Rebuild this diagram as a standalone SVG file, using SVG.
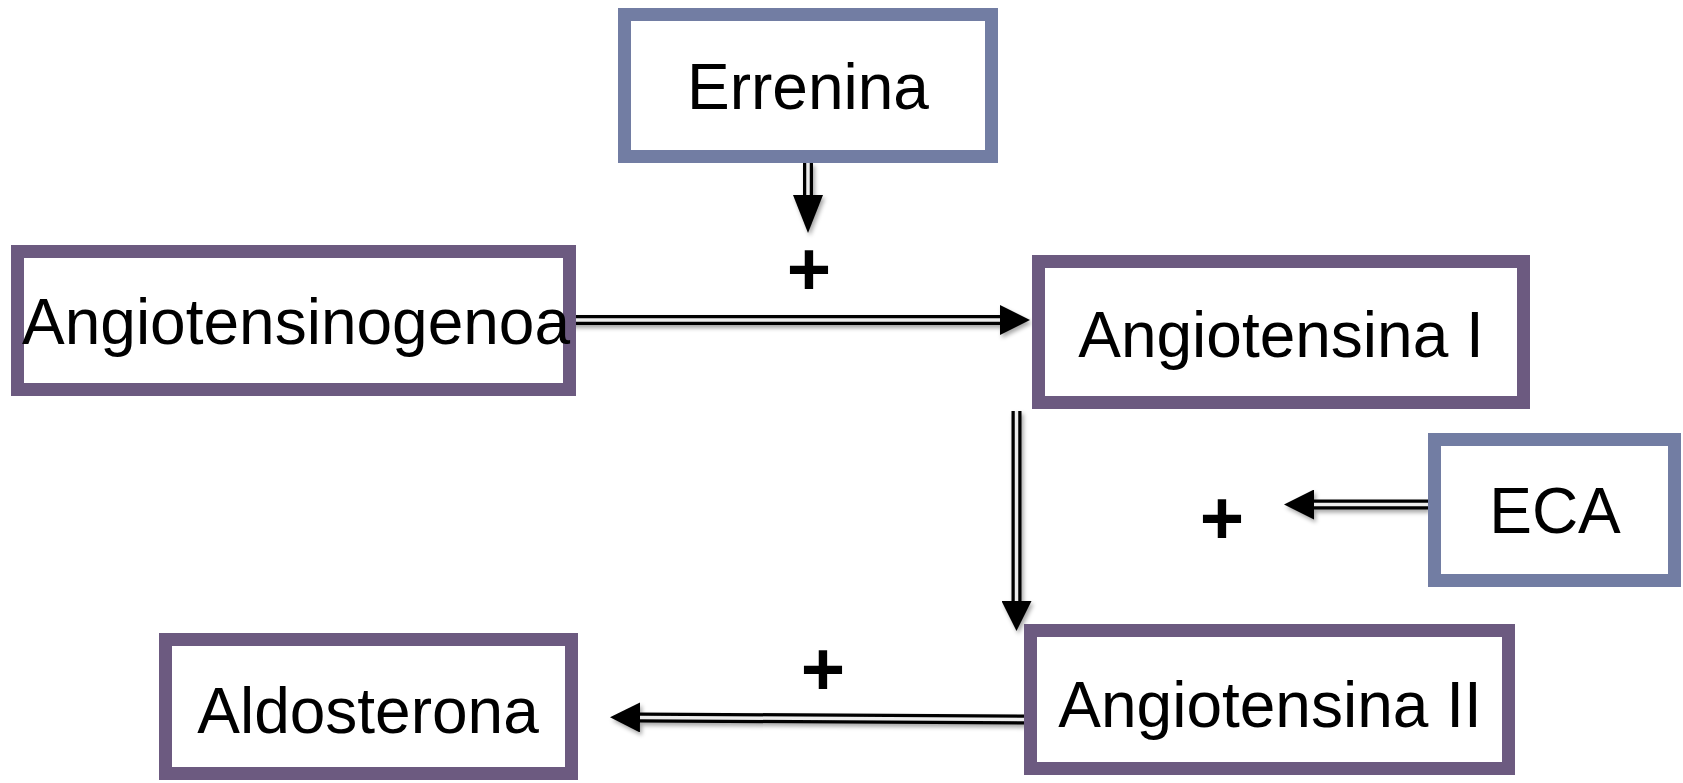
<svg xmlns="http://www.w3.org/2000/svg" width="1683" height="783" viewBox="0 0 1683 783">
  <style>
    .box { fill: #ffffff; stroke-width: 13; }
    .blue { stroke: #727DA3; }
    .purple { stroke: #6C5A80; }
    .label { font-family: "Liberation Sans", Arial, sans-serif; font-size: 64px; fill: #000000; }
    .plus { font-family: "Liberation Sans", Arial, sans-serif; font-size: 76px; font-weight: bold; fill: #000000; text-anchor: middle; }
    .wire { fill: none; stroke: #000000; stroke-width: 10; }
    .gap { fill: none; stroke: #ececec; stroke-width: 3.5; }
  </style>
  <defs>
    <marker id="head" markerUnits="userSpaceOnUse" markerWidth="30" markerHeight="30" viewBox="0 0 30 30" refX="0" refY="15" orient="auto">
      <path d="M0,0 L30,15 L0,30 Z" fill="#000000"/>
    </marker>
    <marker id="headLong" markerUnits="userSpaceOnUse" markerWidth="38" markerHeight="30" viewBox="0 0 38 30" refX="0" refY="15" orient="auto">
      <path d="M0,0 L38,15 L0,30 Z" fill="#000000"/>
    </marker>
    <filter id="shadow" x="-20%" y="-20%" width="140%" height="160%">
      <feDropShadow dx="2" dy="3" stdDeviation="2" flood-color="#000000" flood-opacity="0.35"/>
    </filter>
  </defs>

  <rect width="1683" height="783" fill="#ffffff"/>

  <!-- connectors: each one is a thick black stroke with a light core, giving a double line -->
  <g id="connectors" filter="url(#shadow)">
    <g id="c-errenina">
      <path class="wire" d="M808,163 L808,195" marker-end="url(#headLong)"/>
      <path class="gap" d="M808,163 L808,195"/>
    </g>
    <g id="c-angiotensinogenoa">
      <path class="wire" d="M566,320 L1000,320" marker-end="url(#head)"/>
      <path class="gap" d="M566,320 L1000,320"/>
    </g>
    <g id="c-angiotensina1">
      <path class="wire" d="M1016.5,411 L1016.5,601" marker-end="url(#head)"/>
      <path class="gap" d="M1016.5,411 L1016.5,601"/>
    </g>
    <g id="c-eca">
      <path class="wire" d="M1428,504.5 L1314,504.5" marker-end="url(#head)"/>
      <path class="gap" d="M1428,504.5 L1314,504.5"/>
    </g>
    <g id="c-angiotensina2">
      <path class="wire" d="M1027,719.5 L640,717.5" marker-end="url(#head)"/>
      <path class="gap" d="M1027,719.5 L640,717.5"/>
    </g>
  </g>

  <g id="node-errenina">
    <rect class="box blue" x="624.5" y="14.5" width="367" height="142"/>
    <text class="label" x="808" y="109" text-anchor="middle">Errenina</text>
  </g>

  <g id="node-angiotensinogenoa">
    <rect class="box purple" x="17.5" y="251.5" width="552" height="138"/>
    <text class="label" x="22" y="344">Angiotensinogenoa</text>
  </g>

  <g id="node-angiotensina1">
    <rect class="box purple" x="1038.5" y="261.5" width="485" height="141"/>
    <text class="label" x="1281" y="357" text-anchor="middle">Angiotensina I</text>
  </g>

  <g id="node-eca">
    <rect class="box blue" x="1434.5" y="439.5" width="240" height="141"/>
    <text class="label" x="1555" y="533" text-anchor="middle">ECA</text>
  </g>

  <g id="node-angiotensina2">
    <rect class="box purple" x="1030.5" y="630.5" width="478" height="138"/>
    <text class="label" x="1270" y="727" text-anchor="middle">Angiotensina II</text>
  </g>

  <g id="node-aldosterona">
    <rect class="box purple" x="165.5" y="639.5" width="406" height="134"/>
    <text class="label" x="368" y="733" text-anchor="middle">Aldosterona</text>
  </g>

  <!-- activation marks -->
  <g id="signs">
    <text class="plus" x="809" y="295">+</text>
    <text class="plus" x="1222" y="544">+</text>
    <text class="plus" x="823" y="695">+</text>
  </g>
</svg>
